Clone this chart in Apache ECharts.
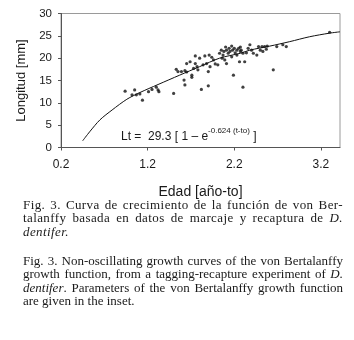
<!DOCTYPE html>
<html>
<head>
<meta charset="utf-8">
<script src="https://cdn.jsdelivr.net/npm/echarts@6/dist/echarts.min.js"></script>
<style>
  body { margin: 0; background: #fff; }
  #wrap { position: relative; width: 354px; height: 340px; }
  #chart { position: absolute; left: 0; top: 0; width: 354px; height: 340px; }
  .caption {
    position: absolute;
    left: 23px;
    width: 320px;
    font-family: 'Liberation Serif', 'DejaVu Serif', serif;
    font-size: 13px;
    line-height: 13.3px;
    color: #1a1a1a;
  }
  .caption div { white-space: nowrap; text-align: justify; text-align-last: justify; }
  .caption div.last { text-align-last: left; }
  .caption.es { letter-spacing: 0.4px; }
</style>
</head>
<body>
<div id="wrap">
  <div id="chart"></div>
  <div class="caption es" style="top:198px">
    <div>Fig. 3. Curva de crecimiento de la función de von Ber-</div>
    <div>talanffy basada en datos de marcaje y recaptura de <i>D.</i></div>
    <div class="last"><i>dentifer.</i></div>
  </div>
  <div class="caption" style="top:254px">
    <div>Fig. 3. Non-oscillating growth curves of the von Bertalanffy</div>
    <div>growth function, from a tagging-recapture experiment of <i>D.</i></div>
    <div><i>dentifer</i>. Parameters of the von Bertalanffy growth function</div>
    <div class="last">are given in the inset.</div>
  </div>
</div>
<script>
// curva ajustada
const curveAge = [0.45, 0.53, 0.65, 0.79, 0.96, 1.11, 1.32, 1.57, 1.80, 2.03, 2.27, 2.38, 2.61, 2.84, 3.07, 3.30, 3.42]
const curveLen = [1.5, 3.5, 6.2, 8.4, 10.8, 12.3, 14.1, 16.2, 18.1, 20.0, 21.1, 21.8, 22.7, 23.7, 24.8, 25.6, 25.9]

// datos de marcaje-recaptura
const obsAge = [
  0.94, 1.02, 1.05, 1.07, 1.11, 1.14, 1.21, 1.25, 1.30, 1.32, 1.33, 1.50,
  1.53, 1.55, 1.59, 1.62, 1.63, 1.63, 1.65, 1.65, 1.69, 1.71, 1.71, 1.73,
  1.75, 1.75, 1.77, 1.78, 1.80, 1.82, 1.84, 1.86, 1.88, 1.90, 1.90, 1.91,
  1.92, 1.94, 1.96, 1.98, 2.01, 2.03, 2.05, 2.06, 2.07, 2.08, 2.09, 2.10,
  2.11, 2.11, 2.13, 2.14, 2.15, 2.17, 2.17, 2.18, 2.19, 2.20, 2.21, 2.23,
  2.23, 2.25, 2.26, 2.27, 2.27, 2.28, 2.30, 2.30, 2.32, 2.34, 2.36, 2.38,
  2.40, 2.42, 2.46, 2.48, 2.50, 2.52, 2.53, 2.55, 2.57, 2.58, 2.65, 2.69,
  2.76, 2.80, 3.30
]
const obsLen = [
  12.6, 11.8, 12.9, 11.8, 12.0, 10.6, 12.5, 13.0, 13.5, 12.9, 12.5, 12.1,
  17.5, 17.0, 17.0, 15.1, 14.0, 17.2, 18.8, 16.9, 19.2, 15.7, 16.2, 17.7,
  18.8, 20.5, 18.1, 17.4, 20.0, 13.0, 18.5, 20.5, 18.8, 17.0, 13.8, 20.7,
  18.1, 20.2, 19.6, 18.7, 18.5, 21.1, 21.8, 20.0, 20.7, 21.5, 19.6, 22.5,
  18.8, 21.8, 21.1, 22.2, 21.5, 20.3, 22.7, 21.8, 16.2, 22.2, 21.2, 21.8,
  20.7, 22.2, 19.2, 21.5, 22.5, 21.8, 21.1, 13.5, 19.2, 21.2, 22.2, 23.0,
  21.8, 21.1, 20.7, 22.6, 21.8, 22.6, 21.5, 22.6, 22.0, 22.7, 17.4, 22.6,
  23.0, 22.6, 25.8
]

const xTicks = [0.2, 1.2, 2.2, 3.2]

const textColor = '#1a1a1a'
const axisColor = '#555'

const myChart = echarts.init(document.getElementById('chart'), null, { renderer: 'canvas' })

const option = {
  animation: false,
  grid: {
    left: 61,
    right: 14,
    top: 13.5,
    bottom: 192.5,
    containLabel: false,
    outerBoundsMode: 'none',
    show: true,
    borderColor: '#9a9a9a',
    borderWidth: 1
  },
  xAxis: {
    type: 'value',
    min: 0.2,
    max: 3.42,
    name: 'Edad [año-to]',
    nameLocation: 'middle',
    nameGap: 38,
    nameTextStyle: { fontFamily: 'Liberation Sans', fontSize: 14, color: textColor },
    axisLine: { show: true, lineStyle: { color: axisColor } },
    axisTick: { show: true, inside: false, length: 3, lineStyle: { color: axisColor }, customValues: xTicks },
    axisLabel: {
      customValues: xTicks,
      margin: 11,
      fontFamily: 'Liberation Sans',
      fontSize: 12,
      color: textColor,
      formatter: v => v.toFixed(1)
    },
    splitLine: { show: false }
  },
  yAxis: {
    type: 'value',
    min: 0,
    max: 30,
    interval: 5,
    name: 'Longitud [mm]',
    nameLocation: 'middle',
    nameGap: 29,
    nameTextStyle: { fontFamily: 'Liberation Sans', fontSize: 13, color: textColor },
    axisLine: { show: true, lineStyle: { color: axisColor } },
    axisTick: { show: true, inside: false, length: 3, lineStyle: { color: axisColor } },
    axisLabel: { margin: 9, fontFamily: 'Liberation Sans', fontSize: 11.5, color: textColor },
    splitLine: { show: false }
  },
  graphic: [
    {
      type: 'text',
      left: 121,
      top: 127,
      style: {
        text: '{a|Lt =  29.3 [ 1 – e}{s|-0.624 (t-to)}{a| ]}',
        rich: {
          a: { fontFamily: 'Liberation Sans', fontSize: 12, lineHeight: 16, verticalAlign: 'bottom', fill: textColor },
          s: { fontFamily: 'Liberation Sans', fontSize: 8, lineHeight: 4, verticalAlign: 'top', fill: textColor }
        }
      }
    }
  ],
  series: [
    {
      type: 'scatter',
      data: obsAge.map((a, i) => [a, obsLen[i]]),
      symbol: 'circle',
      symbolSize: 3.2,
      itemStyle: { color: '#111' }
    },
    {
      type: 'line',
      data: curveAge.map((a, i) => [a, curveLen[i]]),
      smooth: 0.3,
      symbol: 'none',
      lineStyle: { color: '#111', width: 1 }
    }
  ]
}

myChart.setOption(option)
</script>
</body>
</html>
